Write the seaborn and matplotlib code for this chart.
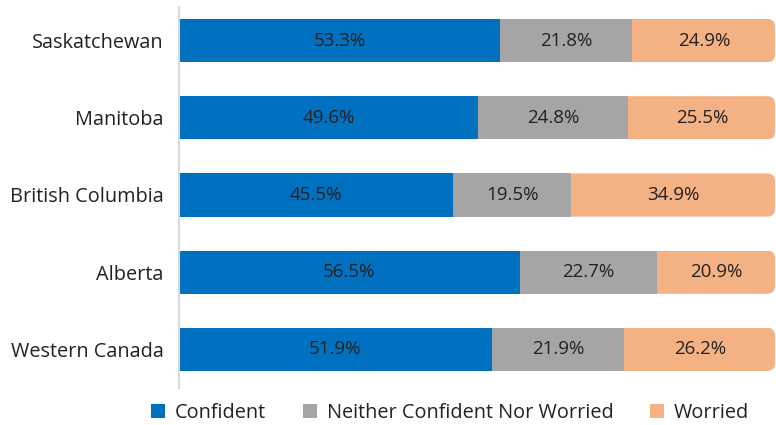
import numpy as np
import pandas as pd
import seaborn as sns
import matplotlib.pyplot as plt
from matplotlib.patches import FancyBboxPatch, Patch

# data
regions = ['Saskatchewan', 'Manitoba', 'British Columbia', 'Alberta', 'Western Canada']
confident = [53.3, 49.6, 45.5, 56.5, 51.9]
neither = [21.8, 24.8, 19.5, 22.7, 21.9]
worried = [24.9, 25.5, 34.9, 20.9, 26.2]
series_names = ['Confident', 'Neither Confident Nor Worried', 'Worried']
colors = ['#0070C0', '#A5A5A5', '#F4B183']

sns.set_theme(style='white')
plt.rcParams['font.family'] = ['Open Sans', 'DejaVu Sans']

df = pd.DataFrame({'region': regions, 'Confident': confident,
                   'Neither': neither, 'Worried': worried})
df['c1'] = df['Confident']
df['c2'] = df['c1'] + df['Neither']
df['c3'] = df['c2'] + df['Worried']

fig = plt.figure(figsize=(7.76, 4.25), dpi=100)
ax = fig.add_axes([179 / 776, 1 - 388 / 425, 1 - 179 / 776, (388 - 2) / 425])

# stacked bars: draw cumulative totals back to front
bar_h = 0.56
for col, color in zip(['c3', 'c2', 'c1'], colors[::-1]):
    sns.barplot(data=df, x=col, y='region', orient='h', color=color,
                saturation=1, width=bar_h, linewidth=0, ax=ax)

xmax = 99.0
ax.set_xlim(0, xmax)
ax.set_ylim(4.5, -0.5)
ax.set_xlabel('')
ax.set_ylabel('')
ax.set_xticks([])
for s in ['top', 'right', 'bottom']:
    ax.spines[s].set_visible(False)
ax.spines['left'].set_color('#D9D9D9')
ax.spines['left'].set_linewidth(1.5)
ax.spines['left'].set_bounds(-0.44, 4.5)
ax.tick_params(axis='y', length=0, labelsize=14.3, labelcolor='#222222', pad=11)

# round the right end of the orange (first drawn) bars
fig.canvas.draw()
inv = ax.transData.inverted()
p0 = inv.transform((0, 0))
p1 = inv.transform((1, 1))
ux = abs(p1[0] - p0[0])   # data units per pixel in x
uy = abs(p1[1] - p0[1])   # data units per pixel in y
radius_px = 8
orange_bars = ax.patches[:len(regions)]
for bar in orange_bars:
    x0, y0 = bar.get_x(), bar.get_y()
    w, h = bar.get_width(), bar.get_height()
    w = min(w, xmax - 0.15)
    clip = FancyBboxPatch((x0, y0), w, h,
                          boxstyle=f'round,pad=0,rounding_size={radius_px * ux}',
                          mutation_aspect=uy / ux, transform=ax.transData,
                          facecolor='none', edgecolor='none')
    ax.add_patch(clip)
    bar.set_clip_path(clip)

# value labels in the middle of each segment
for i in range(len(regions)):
    starts = [0, df['c1'][i], df['c2'][i]]
    vals = [confident[i], neither[i], worried[i]]
    for st, v in zip(starts, vals):
        xc = min(st + v / 2, (st + min(st + v, xmax)) / 2)
        ax.text(xc, i, f'{v:.1f}%', ha='center', va='center',
                fontsize=13.5, color='#222222')

handles = [Patch(facecolor=c, edgecolor='none') for c in colors]
fig.legend(handles, series_names, loc='center', bbox_to_anchor=(0.58, 0.029),
           ncol=3, frameon=False, fontsize=14.3, handlelength=0.72,
           handleheight=0.72, handletextpad=0.48, columnspacing=1.85,
           labelcolor='#222222')

fig.savefig('out.png', dpi=100)
